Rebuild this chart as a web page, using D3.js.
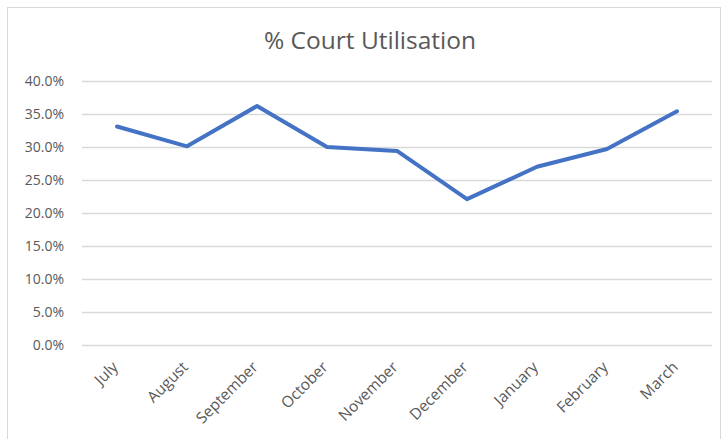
<!DOCTYPE html>
<html lang="en">
<head>
    <meta charset="UTF-8">
    <title>% Court Utilisation</title>
    <style>
        body {
            margin: 0;
            background: #fff;
            font-family: "Open Sans", Arial, sans-serif;
        }
        .grid line {
            stroke: #d9d9d9;
            stroke-width: 1.3;
        }
        .label {
            fill: #595959;
            font-size: 14px;
        }
        .xlabel {
            font-size: 15.5px;
        }
    </style>
</head>
<body>
<script src="https://d3js.org/d3.v7.min.js"></script>
<script>
    // Data
    const months = ["July", "August", "September", "October", "November", "December", "January", "February", "March"];
    const utilisation = [0.331, 0.301, 0.362, 0.300, 0.294, 0.221, 0.270, 0.297, 0.354];
    const yTicks = [0, 0.05, 0.10, 0.15, 0.20, 0.25, 0.30, 0.35, 0.40];

    const width = 727;
    const height = 439;
    const margin = {top: 81, right: 15, bottom: 94, left: 82};

    const svg = d3.select("body")
        .append("svg")
        .attr("width", width)
        .attr("height", height);

    // chart border
    svg.append("rect")
        .attr("x", 7.5)
        .attr("y", 7.5)
        .attr("width", 713)
        .attr("height", 445)
        .attr("fill", "none")
        .attr("stroke", "#d9d9d9");

    // title
    svg.append("text")
        .attr("x", 370)
        .attr("y", 49)
        .attr("text-anchor", "middle")
        .attr("fill", "#595959")
        .style("font-size", "24.5px")
        .text("% Court Utilisation");

    const x = d3.scaleBand()
        .domain(months)
        .range([margin.left, width - margin.right]);

    const y = d3.scaleLinear()
        .domain([0, 0.4])
        .range([height - margin.bottom, margin.top]);

    // gridlines
    svg.append("g")
        .attr("class", "grid")
        .selectAll("line")
        .data(yTicks)
        .enter()
        .append("line")
        .attr("x1", margin.left)
        .attr("x2", width - margin.right)
        .attr("y1", d => Math.round(y(d)) + 0.5)
        .attr("y2", d => Math.round(y(d)) + 0.5);

    // y labels
    svg.append("g")
        .selectAll("text")
        .data(yTicks)
        .enter()
        .append("text")
        .attr("class", "label")
        .attr("x", 64)
        .attr("y", d => y(d))
        .attr("dy", "0.35em")
        .attr("text-anchor", "end")
        .text(d => d3.format(".1%")(d));

    // x labels
    svg.append("g")
        .selectAll("text")
        .data(months)
        .enter()
        .append("text")
        .attr("class", "label xlabel")
        .attr("text-anchor", "end")
        .attr("transform", d => "translate(" + (x(d) + x.bandwidth() / 2 + 2) + "," + (height - margin.bottom + 23) + ") rotate(-45)")
        .text(d => d);

    // line
    const line = d3.line()
        .x((d, i) => x(months[i]) + x.bandwidth() / 2)
        .y(d => y(d));

    svg.append("path")
        .datum(utilisation)
        .attr("fill", "none")
        .attr("stroke", "#4472c4")
        .attr("stroke-width", 4)
        .attr("stroke-linejoin", "round")
        .attr("stroke-linecap", "round")
        .attr("d", line);
</script>
</body>
</html>
